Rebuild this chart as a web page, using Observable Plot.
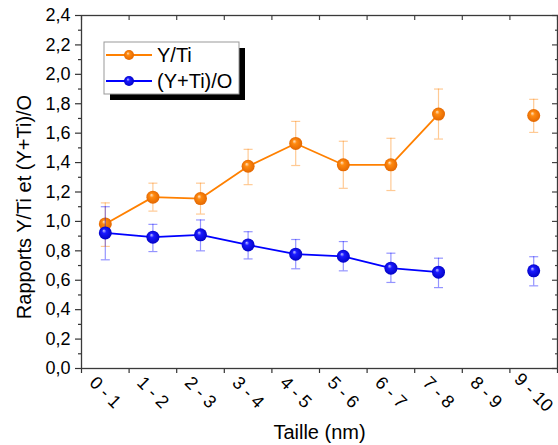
<!DOCTYPE html>
<html>
<head>
<meta charset="utf-8">
<script src="https://cdn.jsdelivr.net/npm/d3@7"></script>
<script src="https://cdn.jsdelivr.net/npm/@observablehq/plot@0.6"></script>
<style>
  html, body { margin: 0; padding: 0; background: #fff; }
  #chart { position: relative; width: 558px; height: 445px; }
</style>
</head>
<body>
<div id="chart"></div>
<script>
const categories = ["0 - 1", "1 - 2", "2 - 3", "3 - 4", "4 - 5", "5 - 6", "6 - 7", "7 - 8", "8 - 9", "9 - 10"];
const ytiValues = [0.983, 1.165, 1.155, 1.375, 1.53, 1.385, 1.385, 1.73, null, 1.72];
const ytiLow    = [0.83, 1.07, 1.05, 1.25, 1.38, 1.225, 1.21, 1.56, null, 1.605];
const ytiHigh   = [1.126, 1.26, 1.26, 1.49, 1.68, 1.545, 1.565, 1.90, null, 1.83];
const ytoValues = [0.922, 0.893, 0.909, 0.84, 0.777, 0.763, 0.682, 0.655, null, 0.664];
const ytoLow    = [0.739, 0.795, 0.80, 0.745, 0.678, 0.664, 0.585, 0.55, null, 0.562];
const ytoHigh   = [1.10, 0.98, 1.01, 0.93, 0.877, 0.863, 0.784, 0.75, null, 0.76];
const yMajorTicks = [0, 0.2, 0.4, 0.6, 0.8, 1.0, 1.2, 1.4, 1.6, 1.8, 2.0, 2.2, 2.4];
const yMinorTicks = [0.1, 0.3, 0.5, 0.7, 0.9, 1.1, 1.3, 1.5, 1.7, 1.9, 2.1, 2.3];
const seriesNames = ["Y/Ti", "(Y+Ti)/O"];

const rows = categories.map((c, i) => ({
  cat: c, pos: i + 0.5,
  yti: ytiValues[i], ytiLo: ytiLow[i], ytiHi: ytiHigh[i],
  yto: ytoValues[i], ytoLo: ytoLow[i], ytoHi: ytoHigh[i]
}));
const edges = d3.range(categories.length + 1);

const font = "Liberation Sans, Arial, Helvetica, sans-serif";
const capSymbol = {
  draw(ctx, size) {
    const r = Math.sqrt(size / Math.PI);
    ctx.moveTo(-r, 0); ctx.lineTo(r, 0);
  }
};
const fmt = d => d.toFixed(1).replace(".", ",");
const noText = () => "";
const orange = "#FF8000", blue = "#0000FF";

function series(key, color, grad) {
  return [
    Plot.line(rows, {x: "pos", y: key, stroke: color, strokeWidth: 1.8}),
    Plot.ruleX(rows, {x: "pos", y1: key + "Lo", y2: key + "Hi", stroke: color, strokeOpacity: 0.42, strokeWidth: 1.2}),
    Plot.dot(rows, {x: "pos", y: key + "Lo", symbol: capSymbol, r: 4.5, fill: "none", stroke: color, strokeOpacity: 0.42, strokeWidth: 1.2}),
    Plot.dot(rows, {x: "pos", y: key + "Hi", symbol: capSymbol, r: 4.5, fill: "none", stroke: color, strokeOpacity: 0.42, strokeWidth: 1.2}),
    Plot.dot(rows, {x: "pos", y: key, r: 6.5, fill: `url(#${grad})`, stroke: "none"})
  ];
}

const plot = Plot.plot({
  width: 558,
  height: 445,
  marginLeft: 81,
  marginRight: 1,
  marginTop: 15,
  marginBottom: 77,
  style: {fontFamily: font, background: "#fff", color: "#000"},
  x: {type: "linear", domain: [0, categories.length], axis: null},
  y: {domain: [0, 2.4], axis: null},
  marks: [
    // left axis
    Plot.axisY({ticks: yMajorTicks, tickSize: 6, tickPadding: 5, tickFormat: fmt, fontSize: 18, label: null, stroke: "#333", strokeWidth: 1.2}),
    Plot.axisY({ticks: yMinorTicks, tickSize: 3, tickFormat: noText, label: null, stroke: "#333", strokeWidth: 1.2}),
    // right axis (inward ticks)
    Plot.axisY({anchor: "right", ticks: yMajorTicks, tickSize: 6, dx: -6, tickFormat: noText, label: null, stroke: "#444", strokeWidth: 1.2}),
    Plot.axisY({anchor: "right", ticks: yMinorTicks, tickSize: 3, dx: -3, tickFormat: noText, label: null, stroke: "#444", strokeWidth: 1.2}),
    // bottom ticks at category edges
    Plot.axisX({ticks: edges, tickSize: 5, tickFormat: noText, label: null, stroke: "#333", strokeWidth: 1.2}),
    // top ticks inward
    Plot.axisX({anchor: "top", ticks: edges, tickSize: 4, dy: 4, tickFormat: noText, label: null, stroke: "#444", strokeWidth: 1.2}),
    Plot.frame({stroke: "#3a3a3a", strokeWidth: 1.3}),
    // category labels
    Plot.text(rows, {x: "pos", text: "cat", frameAnchor: "bottom", rotate: 45, dy: 24, fontSize: 18, fill: "#000", textAnchor: "middle", lineAnchor: "middle"}),
    // titles
    Plot.text(["Taille (nm)"], {frameAnchor: "bottom", dy: 64, fontSize: 20, fill: "#000", textAnchor: "middle", lineAnchor: "middle"}),
    Plot.text(["Rapports Y/Ti et (Y+Ti)/O"], {frameAnchor: "left", rotate: -90, dx: -57, dy: 15, fontSize: 20, fill: "#000", textAnchor: "middle", lineAnchor: "middle"}),
    ...series("yti", orange, "gradO"),
    ...series("yto", blue, "gradB")
  ]
});

// gradients for the shaded markers
const svg = d3.select(plot);
const defs = svg.insert("defs", ":first-child");
function addGrad(id, light, mid, dark) {
  const g = defs.append("radialGradient").attr("id", id)
    .attr("cx", "50%").attr("cy", "50%").attr("r", "55%").attr("fx", "38%").attr("fy", "32%");
  g.append("stop").attr("offset", "0%").attr("stop-color", light);
  g.append("stop").attr("offset", "30%").attr("stop-color", mid);
  g.append("stop").attr("offset", "100%").attr("stop-color", dark);
}
addGrad("gradO", "#FFE6C8", "#FF8A10", "#E06400");
addGrad("gradB", "#C8C8FF", "#1A1AFF", "#0000C0");

// legend
const lg = svg.append("g").attr("font-family", font).attr("text-anchor", "start");
lg.append("rect").attr("x", 110).attr("y", 48).attr("width", 135).attr("height", 52).attr("fill", "#000");
lg.append("rect").attr("x", 104).attr("y", 42).attr("width", 135).attr("height", 52).attr("fill", "#fff").attr("stroke", "#999").attr("stroke-width", 1);
[[orange, "gradO", 55], [blue, "gradB", 81]].forEach(([c, g, y], i) => {
  lg.append("line").attr("x1", 106).attr("x2", 152).attr("y1", y).attr("y2", y).attr("stroke", c).attr("stroke-width", 1.8);
  lg.append("circle").attr("cx", 129).attr("cy", y).attr("r", 5).attr("fill", `url(#${g})`);
  lg.append("text").attr("x", 157).attr("y", y).attr("dy", "0.35em").attr("font-size", 20).attr("fill", "#000").attr("text-anchor", "start").text(seriesNames[i]);
});

document.getElementById("chart").appendChild(plot);
</script>
</body>
</html>
